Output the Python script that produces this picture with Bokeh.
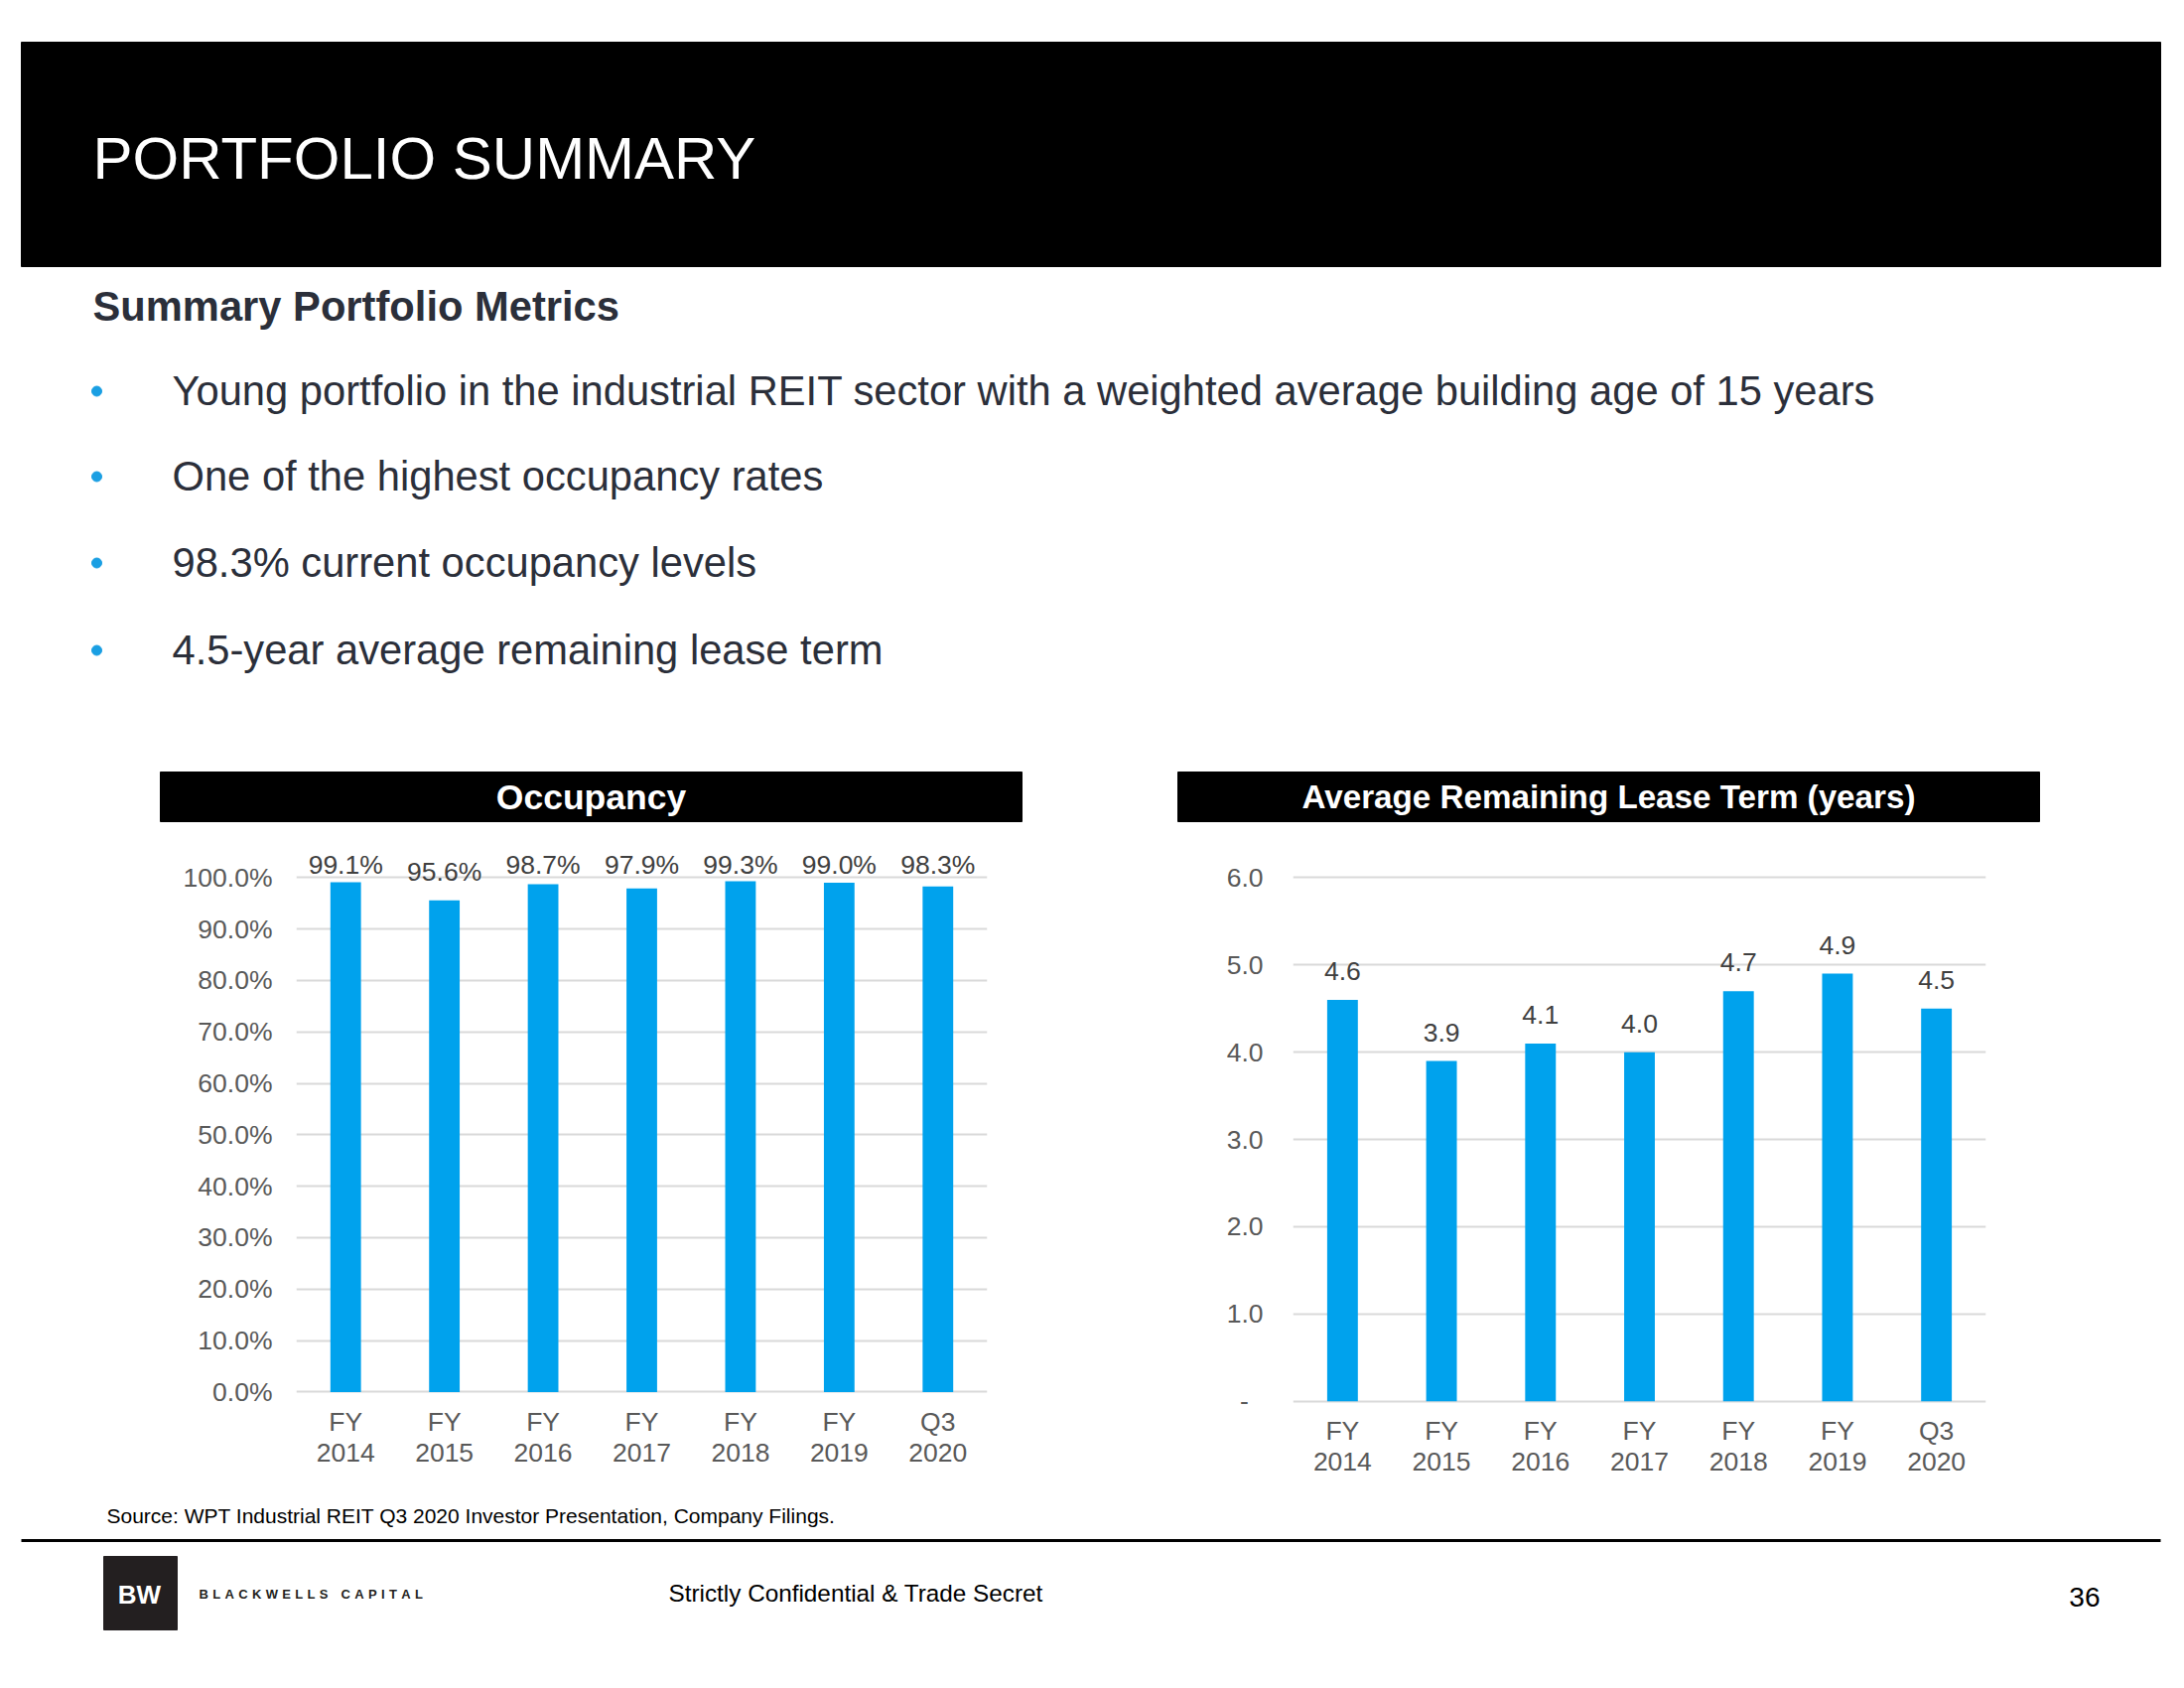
import numpy as np
from bokeh.plotting import figure
from bokeh.models import ColumnDataSource, Range1d, FactorRange, FixedTicker, PrintfTickFormatter, Spacer
from bokeh.layouts import column, row
from bokeh.core.properties import value
from bokeh.embed import file_html
from bokeh.resources import INLINE

# ---------------- data ----------------
categories = ["FY\n2014", "FY\n2015", "FY\n2016", "FY\n2017", "FY\n2018", "FY\n2019", "Q3\n2020"]
occupancy = [99.1, 95.6, 98.7, 97.9, 99.3, 99.0, 98.3]
lease_term = [4.6, 3.9, 4.1, 4.0, 4.7, 4.9, 4.5]
occ_ticks = [0, 10, 20, 30, 40, 50, 60, 70, 80, 90, 100]
lease_ticks = [0, 1, 2, 3, 4, 5, 6]

page_title = "PORTFOLIO SUMMARY"
section_title = "Summary Portfolio Metrics"
bullets = [
    "Young portfolio in the industrial REIT sector with a weighted average building age of 15 years",
    "One of the highest occupancy rates",
    "98.3% current occupancy levels",
    "4.5-year average remaining lease term",
]
occ_title = "Occupancy"
lease_title = "Average Remaining Lease Term (years)"
source_note = "Source: WPT Industrial REIT Q3 2020 Investor Presentation, Company Filings."
footer_mid = "Strictly Confidential & Trade Secret"
page_number = "36"

FONT = "Liberation Sans"
BLUE = "#00a2ed"
SLATE = "#2b2f3a"
AXIS_GREY = "#595959"
LABEL_GREY = "#404040"
GRID = "#d9d9d9"
CHART_FS = "26.5px"


def canvas(w, h, y0, y1):
    p = figure(width=w, height=h, x_range=Range1d(0, w), y_range=Range1d(y1, y0),
               output_backend="svg", toolbar_location=None, x_axis_type=None, y_axis_type=None,
               min_border=0, outline_line_color=None)
    p.grid.visible = False
    return p


def label(p, x, y, text, size, color, align="left", bold=False):
    p.text(x=x, y=y, text=text, text_font=value(FONT), text_font_size=size,
           text_font_style="bold" if bold else "normal", text_color=color,
           text_baseline="middle", text_align=align)


# ---------------- top part (header, bullets, chart headers) ----------------
top = canvas(2200, 840, 0, 840)
top.quad(left=[21], right=[2176], top=[42], bottom=[268], color="black")
label(top, [93], [159], [page_title], "60px", "white")
label(top, [93], [307.5], [section_title], "41.7px", SLATE, bold=True)
b_mid = [392.5, 478.5, 565.5, 653.5]
label(top, [173] * 4, b_mid, bullets, "41.7px", SLATE)
top.scatter(x=[97] * 4, y=[yb + 1 for yb in b_mid], size=10, color="#1a9fe3", marker="circle")

top.quad(left=[161, 1186], right=[1029, 2054], top=[777, 777], bottom=[827, 827], color="black")
label(top, [595], [802], [occ_title], "35.5px", "white", align="center", bold=True)
label(top, [1620], [802], [lease_title], "33.2px", "white", align="center", bold=True)


# ---------------- charts ----------------
def bar_chart(vals, label_y, labels, ticks, fmt, yrange, width, bl, br, y_standoff, x_standoff, overrides=None):
    p = figure(width=width, height=660, x_range=FactorRange(*categories, range_padding=0),
               y_range=Range1d(*yrange), output_backend="svg", toolbar_location=None,
               min_border_left=bl, min_border_right=br, min_border_top=4, min_border_bottom=84,
               outline_line_color=None)
    src = ColumnDataSource(dict(x=categories, top=vals, ly=label_y, lab=labels))
    p.vbar(x="x", top="top", bottom=0, width=0.31, source=src, color=BLUE, line_color=None)
    p.text(x="x", y="ly", text="lab", source=src, y_offset=-29, text_font=value(FONT),
           text_font_size=CHART_FS, text_color=LABEL_GREY, text_align="center", text_baseline="middle")
    p.xgrid.visible = False
    p.ygrid.ticker = FixedTicker(ticks=ticks)
    p.ygrid.grid_line_color = GRID
    p.ygrid.grid_line_width = 2
    p.yaxis.ticker = FixedTicker(ticks=ticks)
    p.yaxis.formatter = PrintfTickFormatter(format=fmt)
    if overrides:
        p.yaxis.major_label_overrides = overrides
    for ax in (p.xaxis, p.yaxis):
        ax.axis_line_color = None
        ax.major_tick_line_color = None
        ax.minor_tick_line_color = None
        ax.major_tick_out = 0
        ax.major_tick_in = 0
        ax.major_label_text_font = FONT
        ax.major_label_text_font_size = CHART_FS
        ax.major_label_text_color = AXIS_GREY
    p.yaxis.major_label_standoff = y_standoff
    p.xaxis.major_label_standoff = x_standoff
    p.xaxis.major_label_text_line_height = 1.06
    return p


occ_labels = [f"{v:.1f}%" for v in occupancy]
occ_label_y = list(np.minimum(np.array(occupancy), 96.9))
p_occ = bar_chart(occupancy, occ_label_y, occ_labels, occ_ticks, "%.1f%%", (-2.82, 107.6),
                  880, 148, 36, 24, 0)

lease_labels = [f"{v:.1f}" for v in lease_term]
p_lease = bar_chart(lease_term, lease_term, lease_labels, lease_ticks, "%.1f", (-0.06, 6.449),
                    860, 122, 40, 30, 9, overrides={0: "-\u00a0\u00a0"})

middle = row(Spacer(width=150, height=660), p_occ, Spacer(width=150, height=660), p_lease,
             Spacer(width=160, height=660))

# ---------------- footer ----------------
bot = canvas(2200, 200, 1500, 1700)
label(bot, [107], [1526], [source_note], "21px", "black")
bot.segment(x0=[21], x1=[2176], y0=[1551], y1=[1551], line_width=3, line_color="black")
bot.quad(left=[104], right=[178], top=[1567], bottom=[1641], color="#231f20")
label(bot, [140], [1605], ["BW"], "26px", "white", align="center", bold=True)
brand = "\u2004".join(list("BLACKWELLS")) + "\u2004\u2004\u2004" + "\u2004".join(list("CAPITAL"))
label(bot, [200], [1605], [brand], "13px", "#231f20", bold=True)
label(bot, [673], [1603.5], [footer_mid], "24.3px", "black")
label(bot, [2115], [1607.5], [page_number], "28px", "black", align="right")

layout = column(top, middle, bot)
open("out.html", "w").write(file_html(layout, INLINE))
